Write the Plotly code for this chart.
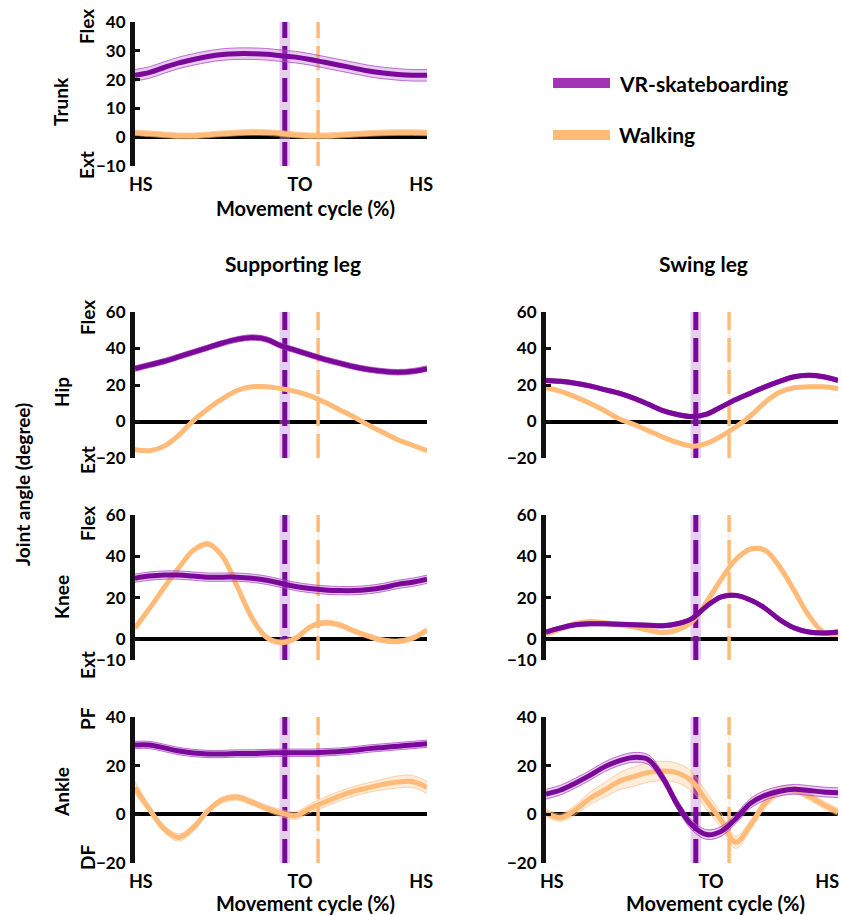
import plotly.graph_objects as go

# ---------------- data ----------------
PCT = [0, 5, 10, 15, 20, 25, 30, 35, 40, 45, 50, 55, 60, 65, 70, 75, 80, 85, 90, 95, 100]

# Trunk
TRUNK_VR = [21.5, 22.5, 24.2, 25.8, 27, 28, 28.7, 29, 29, 28.8, 28.3, 27.8, 27, 26, 25, 24, 23, 22.3, 21.8, 21.5, 21.5]
TRUNK_VR_SD = [2] * 21
TRUNK_WALK = [1.5, 1.2, 0.8, 0.5, 0.5, 0.8, 1.2, 1.5, 1.7, 1.6, 1.3, 0.8, 0.5, 0.5, 0.7, 1.0, 1.3, 1.5, 1.6, 1.6, 1.5]
TRUNK_WALK_SD = [1] * 21

# Hip
HIP_SUP_VR = [29, 31, 33, 35.5, 38, 40.5, 43, 45, 46, 45, 41.5, 39, 36.5, 34, 32, 30, 28.5, 27.5, 27, 27.5, 29]
HIP_SUP_VR_SD = [1.5] * 21
HIP_SUP_WALK = [-15.5, -16, -13.5, -7.5, 0.5, 7, 12.5, 17, 19, 19, 18, 16.5, 14, 10.5, 6.5, 2.5, -2, -6, -10, -13, -16]
HIP_SUP_WALK_SD = [0.8] * 21
HIP_SW_VR = [22.5, 22, 21, 19.5, 17.5, 15.5, 12.8, 9.5, 6, 3.8, 2.7, 4, 8, 12, 15.5, 19, 22, 24.5, 25.3, 24.5, 22.5]
HIP_SW_VR_SD = [1.2] * 21
HIP_SW_WALK = [18.5, 16.5, 13.5, 10, 6, 1.5, -1.5, -5, -8.5, -11.5, -13.5, -12, -8, -3, 3, 10.5, 16, 18.5, 19, 19, 18]
HIP_SW_WALK_SD = [0.8] * 21

# Knee
KNEE_SUP_VR = [29.5, 30.5, 31, 31, 30.5, 30, 30, 30, 29.5, 28.5, 27, 25.5, 24.5, 23.8, 23.5, 23.5, 24, 25, 26.5, 27.5, 29]
KNEE_SUP_VR_SD = [2] * 21
KNEE_SUP_WALK = [5.5, 15, 25, 34.5, 43, 46, 40, 25.5, 10.5, 1, -1.5, 0.5, 6, 8, 7, 4, 1.5, -0.5, -1, 0.5, 4.5]
KNEE_SUP_WALK_SD = [1.2] * 21
KNEE_SW_VR = [3.5, 5.5, 7, 7.5, 7.5, 7.3, 7, 6.8, 6.5, 7.5, 10, 16, 20.5, 21.2, 19, 15, 9.5, 5.5, 3.5, 3, 3.5]
KNEE_SW_VR_SD = [1] * 21
KNEE_SW_WALK = [2.5, 5, 7.5, 8.5, 8, 7, 6, 4.5, 3.3, 4.5, 8.5, 18, 29, 38.5, 43.5, 43, 35, 23.5, 11.5, 3.5, 2.5]
KNEE_SW_WALK_SD = [1] * 21

# Ankle
ANK_SUP_VR = [28.5, 28.5, 27.3, 26, 25.2, 24.8, 24.8, 25, 25, 25.2, 25.3, 25.3, 25.3, 25.5, 25.8, 26.3, 27, 27.5, 28, 28.5, 29]
ANK_SUP_VR_SD = [1.5] * 21
ANK_SUP_WALK = [11, 2, -6, -9.5, -5.5, 1.5, 6, 7, 5, 2.5, 0.5, -0.5, 2.5, 5, 7.5, 9.5, 11, 12.3, 13.3, 13.5, 11]
ANK_SUP_WALK_SD = [2.5, 1.5, 1.5, 1.5, 1.5, 1.2, 1.2, 1.2, 1.2, 1.2, 1.5, 1.5, 1.8, 2, 2, 2, 2, 2.2, 2.5, 2.5, 2.5]
ANK_SW_VR = [8.3, 10, 12.8, 16, 19.5, 22, 23.4, 22.5, 15, 4, -4.5, -8.3, -7, -1.8, 4.5, 7.8, 9.5, 10.3, 9.8, 9.2, 8.9]
ANK_SW_VR_SD = [2] * 21
ANK_SW_WALK = [0.7, -1.4, 1.8, 6.5, 10, 13.5, 15.5, 17.2, 17.8, 17, 13.5, 5.5, -2.5, -11.5, -4.5, 4.5, 9.5, 10, 7.5, 4, 1]
ANK_SW_WALK_SD = [1.5, 1.5, 2, 2.5, 3, 3.5, 4, 4, 4, 4, 4, 3.5, 3, 2.5, 2, 2, 2, 1.5, 1.5, 1.5, 1.5]

# Toe-off timing (% of cycle) and its spread
TO_VR, TO_VR_SD = 51.3, 1.8
TO_WALK, TO_WALK_SD = 62.7, 0.4

X_TICKVALS = [2, 56.5, 98]
X_TICKVALS_RIGHT = [2, 56.5, 96.3]
X_TICKTEXT = ["HS", "TO", "HS"]

SERIES_NAMES = ["VR-skateboarding", "Walking"]

# ---------------- style ----------------
W, H = 841, 915
FONT = "Lato"
PURPLE = "#7a0898"
PURPLE_EDGE = "rgba(170,70,195,0.75)"
PURPLE_FILL = "rgba(185,110,210,0.35)"
PURPLE_LEG = "#a233b5"
PURPLE_TO_FILL = "rgba(200,150,220,0.45)"
ORANGE = "#ffbb77"
ORANGE_EDGE = "rgba(255,175,110,0.55)"
ORANGE_FILL = "rgba(255,200,150,0.35)"
ORANGE_TO_FILL = "rgba(255,210,170,0.35)"

def px(x):
    return x / W

def py(y):
    return 1 - y / H

LEFT = (135, 427)
RIGHT = (546, 838)

panels = [
    dict(xd=LEFT, yd=(22, 166), yr=[-10, 40], yt=[-10, 0, 10, 20, 30, 40], xt=X_TICKVALS,
         vr=(TRUNK_VR, TRUNK_VR_SD), wk=(TRUNK_WALK, TRUNK_WALK_SD)),
    dict(xd=LEFT, yd=(312, 458), yr=[-20, 60], yt=[-20, 0, 20, 40, 60], xt=None,
         vr=(HIP_SUP_VR, HIP_SUP_VR_SD), wk=(HIP_SUP_WALK, HIP_SUP_WALK_SD)),
    dict(xd=RIGHT, yd=(312, 458), yr=[-20, 60], yt=[-20, 0, 20, 40, 60], xt=None,
         vr=(HIP_SW_VR, HIP_SW_VR_SD), wk=(HIP_SW_WALK, HIP_SW_WALK_SD)),
    dict(xd=LEFT, yd=(515, 660), yr=[-10, 60], yt=[-10, 0, 20, 40, 60], xt=None,
         vr=(KNEE_SUP_VR, KNEE_SUP_VR_SD), wk=(KNEE_SUP_WALK, KNEE_SUP_WALK_SD)),
    dict(xd=RIGHT, yd=(515, 660), yr=[-10, 60], yt=[-10, 0, 20, 40, 60], xt=None,
         vr=(KNEE_SW_VR, KNEE_SW_VR_SD), wk=(KNEE_SW_WALK, KNEE_SW_WALK_SD)),
    dict(xd=LEFT, yd=(717, 863), yr=[-20, 40], yt=[-20, 0, 20, 40], xt=X_TICKVALS,
         vr=(ANK_SUP_VR, ANK_SUP_VR_SD), wk=(ANK_SUP_WALK, ANK_SUP_WALK_SD)),
    dict(xd=RIGHT, yd=(717, 863), yr=[-20, 40], yt=[-20, 0, 20, 40], xt=X_TICKVALS_RIGHT,
         vr=(ANK_SW_VR, ANK_SW_VR_SD), wk=(ANK_SW_WALK, ANK_SW_WALK_SD)),
]

fig = go.Figure()
layout = {}

def add_band(mean, sd, xa, ya, line_c, edge_c, fill_c):
    lo = [m - s for m, s in zip(mean, sd)]
    hi = [m + s for m, s in zip(mean, sd)]
    fig.add_trace(go.Scatter(x=PCT, y=lo, mode="lines", line=dict(color=edge_c, width=1, shape="spline"),
                             xaxis=xa, yaxis=ya, showlegend=False, hoverinfo="skip"))
    fig.add_trace(go.Scatter(x=PCT, y=hi, mode="lines", line=dict(color=edge_c, width=1, shape="spline"),
                             fill="tonexty", fillcolor=fill_c,
                             xaxis=xa, yaxis=ya, showlegend=False, hoverinfo="skip"))
    fig.add_trace(go.Scatter(x=PCT, y=mean, mode="lines", line=dict(color=line_c, width=5, shape="spline"),
                             xaxis=xa, yaxis=ya, showlegend=False, hoverinfo="skip"))

def add_to(t, sd, yr, xa, ya, fill_c, line_c, lw):
    fig.add_trace(go.Scatter(x=[t - sd, t + sd, t + sd, t - sd, t - sd], y=[yr[0], yr[0], yr[1], yr[1], yr[0]],
                             mode="lines", line=dict(width=0), fill="toself", fillcolor=fill_c,
                             xaxis=xa, yaxis=ya, showlegend=False, hoverinfo="skip"))
    fig.add_trace(go.Scatter(x=[t, t], y=yr, mode="lines", line=dict(color=line_c, width=lw, dash="24px,8px"),
                             xaxis=xa, yaxis=ya, showlegend=False, hoverinfo="skip"))

for i, p in enumerate(panels, start=1):
    xa = "x" if i == 1 else f"x{i}"
    ya = "y" if i == 1 else f"y{i}"
    xk = "xaxis" if i == 1 else f"xaxis{i}"
    yk = "yaxis" if i == 1 else f"yaxis{i}"
    add_to(TO_VR, TO_VR_SD, p["yr"], xa, ya, PURPLE_TO_FILL, PURPLE, 5)
    add_to(TO_WALK, TO_WALK_SD, p["yr"], xa, ya, ORANGE_TO_FILL, ORANGE, 3.5)
    add_band(p["wk"][0], p["wk"][1], xa, ya, ORANGE, ORANGE_EDGE, ORANGE_FILL)
    add_band(p["vr"][0], p["vr"][1], xa, ya, PURPLE, PURPLE_EDGE, PURPLE_FILL)

    show_x = p["xt"] is not None
    layout[xk] = dict(domain=[px(p["xd"][0]), px(p["xd"][1])], range=[0, 100], anchor=ya,
                      showgrid=False, zeroline=False, showline=False, ticks="", automargin=False,
                      tickvals=p["xt"] if show_x else [], ticktext=X_TICKTEXT if show_x else [],
                      showticklabels=show_x, ticklabelstandoff=6, ticklabeloverflow="allow",
                      tickfont=dict(family=FONT, size=18, color="black", weight="bold"))
    layout[yk] = dict(domain=[py(p["yd"][1]), py(p["yd"][0])], range=p["yr"], anchor=xa,
                      showgrid=False, zeroline=True, zerolinecolor="black", zerolinewidth=3.5,
                      showline=True, linecolor="#111", linewidth=5, automargin=False,
                      ticks="inside", ticklen=5, tickwidth=3, tickcolor="#111",
                      tickvals=p["yt"], ticklabelstandoff=1, ticklabeloverflow="allow",
                      tickfont=dict(family=FONT, size=17, color="black", weight="bold"))

def ann(text, x, y, size=19, angle=0, xanchor="center"):
    return dict(text=text, x=px(x), y=py(y), xref="paper", yref="paper", showarrow=False,
                textangle=angle, xanchor=xanchor, yanchor="middle",
                font=dict(family=FONT, size=size, color="black", weight="bold"))

annotations = [
    ann("Flex", 87, 27, angle=-90), ann("Ext", 87, 165, angle=-90), ann("Trunk", 61, 102, angle=-90),
    ann("Flex", 87, 318, angle=-90), ann("Ext", 87, 460, angle=-90), ann("Hip", 61, 392, angle=-90),
    ann("Flex", 87, 524, angle=-90), ann("Ext", 87, 665, angle=-90), ann("Knee", 61, 597, angle=-90),
    ann("PF", 87, 719, angle=-90), ann("DF", 87, 858, angle=-90), ann("Ankle", 61, 792, angle=-90),
    ann("Joint angle (degree)", 22, 485, size=19, angle=-90),
    ann("Supporting leg", 293, 263, size=21), ann("Swing leg", 703, 263, size=21),
    ann("Movement cycle (%)", 305, 208, size=20), ann("Movement cycle (%)", 305, 903, size=20),
    ann("Movement cycle (%)", 715, 903, size=20),
]

# legend drawn by hand (bars + labels)
LEG_COLORS = [PURPLE_LEG, ORANGE]
LEG_Y = [83, 135]
shapes = []
for name, c, ly in zip(SERIES_NAMES, LEG_COLORS, LEG_Y):
    shapes.append(dict(type="rect", xref="paper", yref="paper", x0=px(553), x1=px(610),
                       y0=py(ly + 5), y1=py(ly - 5), fillcolor=c, line=dict(width=0)))
    annotations.append(ann(name, 617, ly, size=21, xanchor="left"))

fig.update_layout(
    width=W, height=H, margin=dict(l=0, r=0, t=0, b=0, autoexpand=False),
    paper_bgcolor="white", plot_bgcolor="rgba(0,0,0,0)",
    showlegend=False,
    annotations=annotations,
    shapes=shapes,
    **layout,
)

fig.write_html("out.html", config={"displayModeBar": False},
               post_script="document.body.style.margin='0';document.body.style.overflow='hidden';")
